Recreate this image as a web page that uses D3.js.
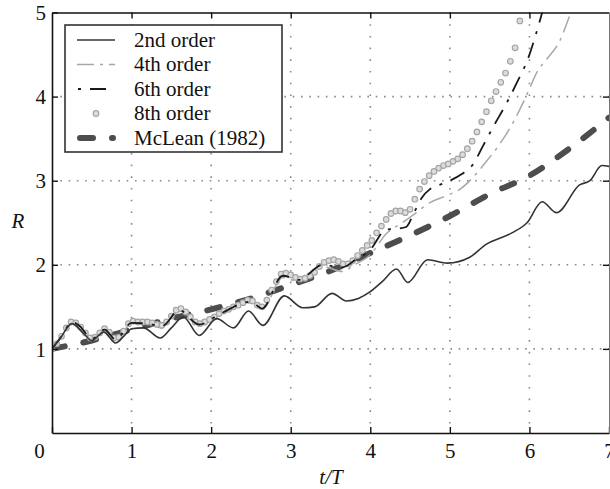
<!DOCTYPE html>
<html>
<head>
<meta charset="utf-8">
<script src="https://cdn.jsdelivr.net/npm/d3@7"></script>
<style>
body { margin: 0; background: #fff; }
svg { display: block; }
svg text { font-family: "Liberation Serif", "DejaVu Serif", serif; }
</style>
</head>
<body>
<svg id="chart"></svg>
<script>
// values: R against t/T
const t2 = [0, 0.1, 0.25, 0.4, 0.5, 0.65, 0.8, 0.9, 1.0, 1.15, 1.36, 1.5, 1.65, 1.85, 2.07, 2.28, 2.47, 2.65, 2.92, 3.15, 3.3, 3.52, 3.7, 3.85, 4.0, 4.15, 4.33, 4.47, 4.72, 4.97, 5.25, 5.45, 5.78, 5.97, 6.16, 6.34, 6.63, 6.76, 6.91, 7.0];
const r2 = [1.0, 1.12, 1.3, 1.18, 1.1, 1.2, 1.07, 1.15, 1.24, 1.25, 1.13, 1.25, 1.38, 1.16, 1.36, 1.25, 1.45, 1.28, 1.63, 1.49, 1.5, 1.66, 1.57, 1.6, 1.68, 1.8, 1.95, 1.79, 2.06, 2.02, 2.09, 2.24, 2.38, 2.5, 2.75, 2.62, 2.95, 3.0, 3.18, 3.17];

const t4 = [0, 0.12, 0.25, 0.35, 0.5, 0.66, 0.8, 1.0, 1.2, 1.38, 1.6, 1.85, 2.1, 2.5, 2.64, 2.9, 3.1, 3.4, 3.65, 3.8, 4.0, 4.2, 4.4, 4.55, 4.75, 4.95, 5.13, 5.3, 5.45, 5.6, 5.8, 5.98, 6.1, 6.23, 6.38, 6.45, 6.52, 6.6];
const r4 = [1.0, 1.15, 1.31, 1.26, 1.12, 1.22, 1.11, 1.3, 1.3, 1.25, 1.45, 1.28, 1.4, 1.55, 1.47, 1.85, 1.8, 1.98, 1.92, 2.0, 2.12, 2.37, 2.5, 2.6, 2.74, 2.82, 2.9, 3.05, 3.22, 3.4, 3.7, 4.05, 4.3, 4.46, 4.66, 4.82, 5.0, 5.2];

const t6 = [0, 0.12, 0.25, 0.35, 0.5, 0.66, 0.8, 1.0, 1.2, 1.38, 1.6, 1.85, 2.1, 2.5, 2.64, 2.9, 3.1, 3.4, 3.65, 3.8, 4.0, 4.2, 4.35, 4.45, 4.55, 4.65, 4.75, 4.87, 5.0, 5.15, 5.28, 5.42, 5.55, 5.7, 5.85, 5.97, 6.1, 6.16, 6.22];
const r6 = [1.0, 1.15, 1.32, 1.27, 1.12, 1.23, 1.11, 1.31, 1.3, 1.27, 1.46, 1.29, 1.41, 1.56, 1.48, 1.87, 1.82, 2.0, 1.97, 2.05, 2.18, 2.42, 2.43, 2.45, 2.62, 2.8, 2.9, 2.95, 3.0, 3.08, 3.18, 3.42, 3.65, 3.9, 4.18, 4.42, 4.8, 5.0, 5.2];

// 8th order is drawn as markers, one every dt8
const dt8 = 0.06;
const r8 = [1.00, 1.06, 1.15, 1.25, 1.32, 1.31, 1.26, 1.19, 1.13, 1.14,
            1.19, 1.24, 1.20, 1.13, 1.14, 1.21, 1.30, 1.33, 1.32, 1.32,
            1.32, 1.31, 1.29, 1.28, 1.32, 1.39, 1.46, 1.48, 1.44, 1.38,
            1.32, 1.30, 1.32, 1.35, 1.38, 1.42, 1.45, 1.47, 1.50, 1.52,
            1.55, 1.58, 1.57, 1.52, 1.50, 1.58, 1.70, 1.80, 1.89, 1.90,
            1.88, 1.85, 1.83, 1.84, 1.87, 1.91, 1.98, 2.03, 2.05, 2.06,
            2.04, 2.01, 2.01, 2.05, 2.11, 2.17, 2.23, 2.29, 2.38, 2.46,
            2.54, 2.61, 2.64, 2.64, 2.62, 2.66, 2.78, 2.90, 2.99, 3.06,
            3.11, 3.15, 3.18, 3.20, 3.23, 3.26, 3.31, 3.38, 3.47, 3.58,
            3.70, 3.82, 3.95, 4.06, 4.17, 4.28, 4.42, 4.58, 4.90];

const tM = [0, 0.5, 1, 1.5, 2, 2.5, 3, 3.5, 4, 4.5, 5, 5.5, 6, 6.5, 7];
const rM = [1.0, 1.1, 1.23, 1.36, 1.47, 1.6, 1.76, 1.93, 2.14, 2.35, 2.58, 2.84, 3.06, 3.38, 3.75];

const xTicks = [0, 1, 2, 3, 4, 5, 6, 7];
const yTicks = [1, 2, 3, 4, 5];
const labels = ["2nd order", "4th order", "6th order", "8th order", "McLean (1982)"];

const serif = "'Liberation Serif', 'DejaVu Serif', serif";

class GrowthChart {

    margin = { top: 12.5, right: 1, bottom: 56, left: 52 };

    constructor(svg) {
        this.svg = svg;
        this.width = 557;
        this.height = 420.5;
    }

    initialize() {
        this.svg = d3.select(this.svg)
            .attr("width", 610)
            .attr("height", 489);

        this.xScale = d3.scaleLinear().domain([0, 7]).range([0, this.width]);
        this.yScale = d3.scaleLinear().domain([0, 5]).range([this.height, 0]);

        this.container = this.svg.append("g")
            .attr("transform", `translate(${this.margin.left}, ${this.margin.top})`);

        this.svg.append("clipPath").attr("id", "plotclip")
            .append("rect")
            .attr("width", this.width)
            .attr("height", this.height);

        this.drawGrid();
        this.drawSeries();
        this.drawAxes();
        this.drawLegend();
    }

    drawGrid() {
        const g = this.container.append("g");
        g.selectAll("line.vg")
            .data(xTicks.slice(1, -1))
            .join("line")
            .attr("x1", d => this.xScale(d)).attr("x2", d => this.xScale(d))
            .attr("y1", 0).attr("y2", this.height)
            .attr("stroke", "#8a8a8a").attr("stroke-width", 1.6)
            .attr("stroke-dasharray", "1.6,10.1");
        g.selectAll("line.hg")
            .data(yTicks.slice(0, -1))
            .join("line")
            .attr("y1", d => this.yScale(d)).attr("y2", d => this.yScale(d))
            .attr("x1", 0).attr("x2", this.width)
            .attr("stroke", "#8a8a8a").attr("stroke-width", 1.6)
            .attr("stroke-dasharray", "1.6,6.7");
    }

    drawSeries() {
        const g = this.container.append("g").attr("clip-path", "url(#plotclip)");
        const line = d3.line()
            .x(d => this.xScale(d[0]))
            .y(d => this.yScale(d[1]))
            .curve(d3.curveMonotoneX);

        const pairs = (t, r) => t.map((v, i) => [v, r[i]]);

        g.append("path").datum(pairs(tM, rM))
            .attr("d", line).attr("fill", "none")
            .attr("stroke", "#4d4d4d").attr("stroke-width", 6)
            .attr("stroke-linecap", "round")
            .attr("stroke-dasharray", "13,19");

        g.append("path").datum(pairs(t4, r4))
            .attr("d", line).attr("fill", "none")
            .attr("stroke", "#a8a8a8").attr("stroke-width", 1.5)
            .attr("stroke-dasharray", "17,6,3,6");

        g.selectAll("circle")
            .data(r8)
            .join("circle")
            .attr("cx", (d, i) => this.xScale(i * dt8))
            .attr("cy", d => this.yScale(d))
            .attr("r", 2.8)
            .attr("fill", "#dcdcdc")
            .attr("stroke", "#a5a5a5")
            .attr("stroke-width", 1.2);

        g.append("path").datum(pairs(t6, r6))
            .attr("d", line).attr("fill", "none")
            .attr("stroke", "#1a1a1a").attr("stroke-width", 1.8)
            .attr("stroke-dasharray", "16,9,3,9");

        g.append("path").datum(pairs(t2, r2))
            .attr("d", line).attr("fill", "none")
            .attr("stroke", "#333").attr("stroke-width", 1.6);
    }

    drawAxes() {
        const fmt = d3.format("d");
        const xAxis = this.container.append("g")
            .attr("transform", `translate(0, ${this.height})`)
            .call(d3.axisBottom(this.xScale).tickValues(xTicks).tickFormat(fmt)
                .tickSizeInner(-6).tickSizeOuter(0).tickPadding(10));
        xAxis.selectAll(".tick").filter(d => d === 0)
            .select("text").attr("dx", "-13");

        const yAxis = this.container.append("g")
            .call(d3.axisLeft(this.yScale).tickValues(yTicks).tickFormat(fmt)
                .tickSizeInner(-6).tickSizeOuter(0).tickPadding(6));
        yAxis.selectAll("text").attr("dy", "0.34em");

        const topAxis = this.container.append("g")
            .call(d3.axisTop(this.xScale).tickValues(xTicks.slice(1, -1))
                .tickSizeInner(-6).tickSizeOuter(0).tickFormat(""));
        const rightAxis = this.container.append("g")
            .attr("transform", `translate(${this.width}, 0)`)
            .call(d3.axisRight(this.yScale).tickValues(yTicks.slice(0, -1))
                .tickSizeInner(-6).tickSizeOuter(0).tickFormat(""));

        [xAxis, yAxis, topAxis].forEach(a => {
            a.select(".domain").attr("stroke", "#111").attr("stroke-width", 1.6);
        });
        rightAxis.select(".domain").attr("stroke", "#777").attr("stroke-width", 1);
        [xAxis, yAxis, topAxis, rightAxis].forEach(a => {
            a.attr("font-family", serif).attr("font-size", 21);
            a.selectAll(".tick line").attr("stroke", "#111").attr("stroke-width", 1.4);
            a.selectAll("text").attr("fill", "#111");
        });

        this.svg.append("text")
            .attr("x", 18).attr("y", 221)
            .attr("dy", "0.35em")
            .attr("text-anchor", "middle")
            .attr("font-family", serif).attr("font-size", 21)
            .attr("font-style", "italic")
            .attr("fill", "#111")
            .text("R");

        this.svg.append("text")
            .attr("x", 331).attr("y", 484)
            .attr("text-anchor", "middle")
            .attr("font-family", serif).attr("font-size", 21)
            .attr("font-style", "italic")
            .attr("fill", "#111")
            .text("t/T");
    }

    drawLegend() {
        const lg = this.svg.append("g").attr("transform", "translate(65, 25)");
        lg.append("rect")
            .attr("width", 217).attr("height", 127)
            .attr("fill", "#fff")
            .attr("stroke", "#333").attr("stroke-width", 1.6);

        const rowY = i => 15 + i * 24.5;
        const x1 = 12, x2 = 50;

        lg.append("line").attr("x1", x1).attr("x2", x2)
            .attr("y1", rowY(0)).attr("y2", rowY(0))
            .attr("stroke", "#333").attr("stroke-width", 1.6);
        lg.append("line").attr("x1", x1).attr("x2", x2)
            .attr("y1", rowY(1)).attr("y2", rowY(1))
            .attr("stroke", "#a8a8a8").attr("stroke-width", 1.5)
            .attr("stroke-dasharray", "17,6,3,6");
        lg.append("line").attr("x1", x1).attr("x2", x2)
            .attr("y1", rowY(2)).attr("y2", rowY(2))
            .attr("stroke", "#1a1a1a").attr("stroke-width", 1.8)
            .attr("stroke-dasharray", "16,9,3,9")
            .attr("stroke-dashoffset", 24);
        lg.append("circle").attr("cx", 31).attr("cy", rowY(3))
            .attr("r", 2.8)
            .attr("fill", "#dcdcdc").attr("stroke", "#a5a5a5").attr("stroke-width", 1.2);
        lg.append("line").attr("x1", x1 + 3).attr("x2", x2 - 2)
            .attr("y1", rowY(4)).attr("y2", rowY(4))
            .attr("stroke", "#4d4d4d").attr("stroke-width", 6)
            .attr("stroke-linecap", "round")
            .attr("stroke-dasharray", "13,19");

        lg.selectAll("text.lab")
            .data(labels)
            .join("text")
            .attr("x", 69)
            .attr("y", (d, i) => rowY(i))
            .attr("dy", "0.33em")
            .attr("fill", "#111")
            .attr("font-family", serif)
            .attr("font-size", 21)
            .text(d => d);
    }
}

const chart = new GrowthChart(document.getElementById("chart"));
chart.initialize();
</script>
</body>
</html>
